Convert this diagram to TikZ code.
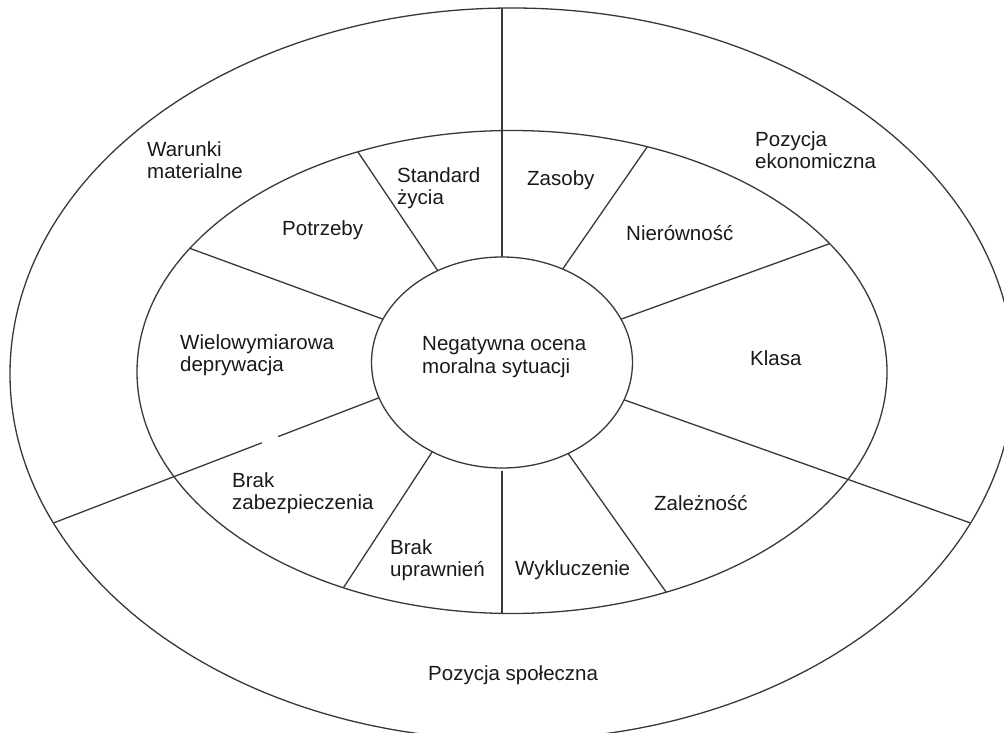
\documentclass[tikz,border=0pt]{standalone}
\usepackage{fontspec}
\setmainfont{Liberation Sans}
\usetikzlibrary{shapes.geometric,calc}
\begin{document}
\begin{tikzpicture}[x=1pt,y=-1pt,
  ring/.style={ellipse,draw=black!78,line width=1.3pt,inner sep=0pt,outer sep=0pt},
  divider/.style={draw=black!78,line width=1.3pt},
  lbl/.style={anchor=west,align=left,inner sep=0pt,text=black!90,font=\fontsize{20.5}{22.5}\selectfont}]
\useasboundingbox (0,0) rectangle (1004,733);
\clip (0,0) rectangle (1004,733);
% rings
\node[ring,minimum width=1004pt,minimum height=732pt] (outer) at (512,374) {};
\node[ring,minimum width=750pt,minimum height=483pt] (middle) at (512,372) {};
\node[ring,minimum width=261pt,minimum height=211pt] (inner) at (502,362.5) {};
% vertical dividers
\draw[divider] (inner.north) -- (inner.north |- outer.north);
\draw[divider] ([yshift=-3pt]inner.south) -- (inner.south |- middle.south);
% radial dividers
\draw[divider] (inner.125) -- (middle.125);
\draw[divider] (inner.160) -- (middle.159);
\draw[divider] (inner.57) -- (middle.59);
\draw[divider] (inner.20) -- (middle.22);
\draw[divider] (inner.343) -- (outer.342);
\draw[divider] (inner.306) -- (middle.305);
\draw[divider] (inner.232) -- (middle.232);
\coordinate (gapA) at ($(inner.196)!0.31!(outer.198)$);
\coordinate (gapB) at ($(inner.196)!0.36!(outer.198)$);
\draw[divider] (inner.196) -- (gapA);
\draw[divider] (gapB) -- (outer.198);
% labels
\node[lbl] (ctext) at (422,357) {Negatywna ocena\\moralna sytuacji};
\node[lbl] (warunki) at (147,160) {Warunki\\materialne};
\node[lbl] (standard) at (397,188) {Standard\\życia};
\node[lbl] (potrzeby) at (282,230) {Potrzeby};
\node[lbl] (wielo) at (180,355) {Wielowymiarowa\\deprywacja};
\node[lbl] (zasoby) at (527,180) {Zasoby};
\node[lbl] (nierow) at (626,233) {Nierówność};
\node[lbl] (ekon) at (755,150) {Pozycja\\ekonomiczna};
\node[lbl] (klasa) at (750,358) {Klasa};
\node[lbl] (zalez) at (654,503) {Zależność};
\node[lbl] (wyklu) at (515,570) {Wykluczenie};
\node[lbl] (upraw) at (390,560) {Brak\\uprawnień};
\node[lbl] (zabez) at (232,493) {Brak\\zabezpieczenia};
\node[lbl] (spol) at (428,675) {Pozycja społeczna};
\end{tikzpicture}
\end{document}
